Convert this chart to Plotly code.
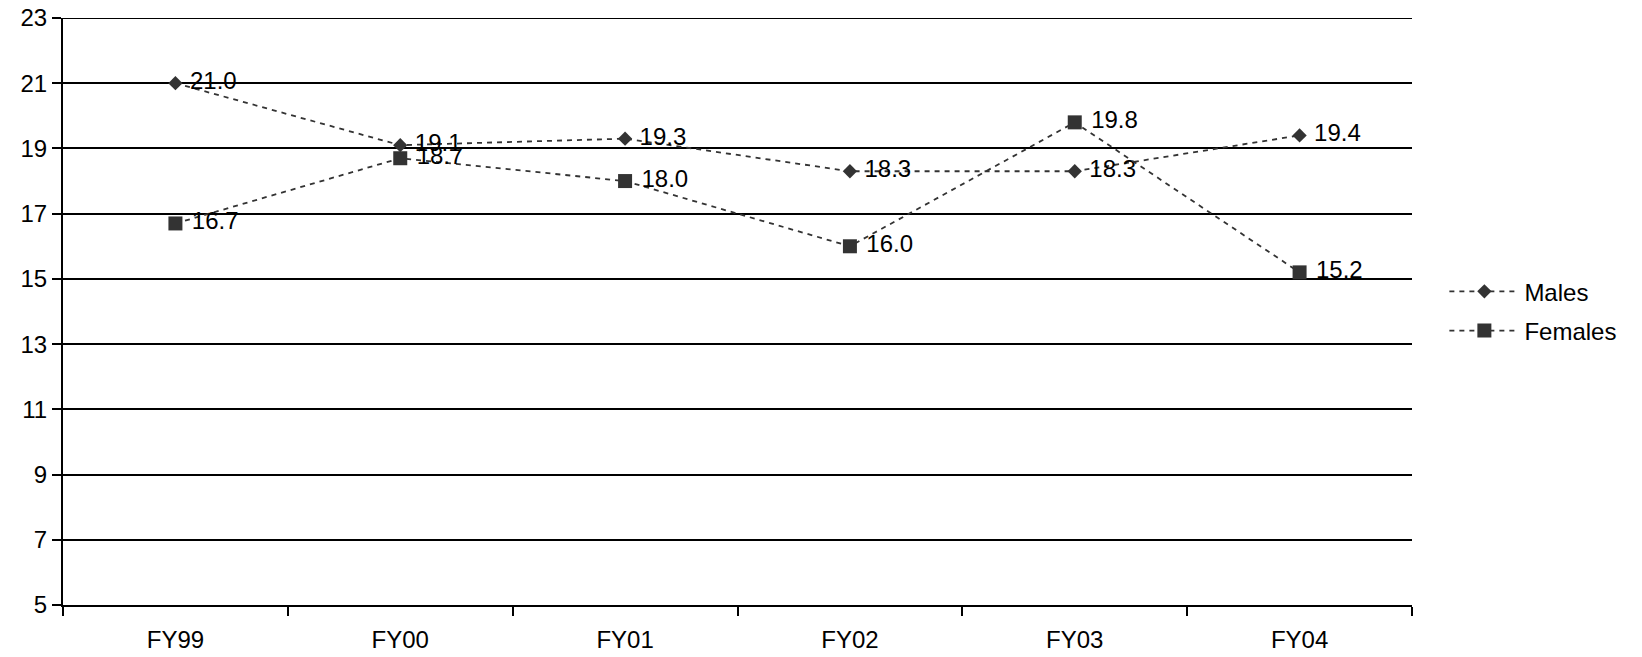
import plotly.graph_objects as go

categories = ["FY99", "FY00", "FY01", "FY02", "FY03", "FY04"]
males = [21.0, 19.1, 19.3, 18.3, 18.3, 19.4]
females = [16.7, 18.7, 18.0, 16.0, 19.8, 15.2]
y_ticks = [5, 7, 9, 11, 13, 15, 17, 19, 21, 23]

FONT = "Liberation Sans, Arial, sans-serif"
COL = "#333333"
PAD = "\u00a0"

fig = go.Figure()
fig.add_trace(go.Scatter(
    x=categories, y=males, name="Males", mode="lines+markers+text",
    legendgroup="m",
    line=dict(color=COL, width=1.8, dash="5px,5px"),
    marker=dict(symbol="diamond", size=11, color=COL),
    text=[f"{PAD}{v:.1f}" for v in males], textposition="middle right",
    textfont=dict(family=FONT, size=24, color="black"),
))
fig.add_trace(go.Scatter(
    x=categories, y=females, name="Females", mode="lines+markers+text",
    legendgroup="f",
    line=dict(color=COL, width=1.8, dash="5px,5px"),
    marker=dict(symbol="square", size=14, color=COL),
    text=[f"{PAD}{v:.1f}" for v in females], textposition="middle right",
    textfont=dict(family=FONT, size=24, color="black"),
))

fig.add_shape(type="line", xref="paper", yref="y", x0=0, x1=1, y0=23, y1=23,
              line=dict(color="black", width=2), layer="below")

fig.update_layout(
    width=1642, height=657,
    margin=dict(l=55, r=238, t=10, b=60, autoexpand=False),
    plot_bgcolor="white", paper_bgcolor="white",
    font=dict(family=FONT, size=24, color="black"),
    showlegend=True,
    legend=dict(x=1.024, y=0.572, xanchor="left", yanchor="top",
                font=dict(size=24), itemwidth=70, tracegroupgap=5,
                bgcolor="rgba(0,0,0,0)"),
    xaxis=dict(type="category", range=[-0.5, len(categories) - 0.5],
               tickson="boundaries", ticks="outside",
               ticklen=9, tickwidth=2, tickcolor="black", automargin=False,
               ticklabeloverflow="allow", ticklabelstandoff=12,
               showline=True, linecolor="black", linewidth=2,
               showgrid=False, zeroline=False),
    yaxis=dict(range=[5, 23], tickvals=y_ticks, ticks="outside",
               ticklen=9, tickwidth=2, tickcolor="black", automargin=False,
               ticklabeloverflow="allow",
               showline=True, linecolor="black", linewidth=2,
               showgrid=True, gridcolor="black", gridwidth=2,
               zeroline=False),
)

fig.write_html("out.html")
